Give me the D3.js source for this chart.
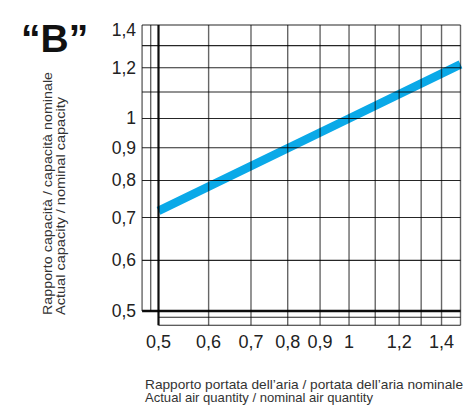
<!DOCTYPE html>
<html>
<head>
<meta charset="utf-8">
<script src="https://cdn.jsdelivr.net/npm/d3@7"></script>
<style>
  html, body { margin: 0; padding: 0; background: #fff; }
  svg { display: block; }
</style>
</head>
<body>
<svg id="chart" width="474" height="410"></svg>
<script>
// ---- data ----
const airQuantity = [0.5, 1.0, 1.5];          // actual / nominal air quantity
const capacityRatio = [0.717, 1.0, 1.215];    // actual / nominal capacity
const xTicks = [0.5, 0.6, 0.7, 0.8, 0.9, 1, 1.2, 1.4];
const xTickLabels = ["0,5", "0,6", "0,7", "0,8", "0,9", "1", "1,2", "1,4"];
const xGrid = [0.5, 0.6, 0.7, 0.8, 0.9, 1.0, 1.1, 1.2, 1.3, 1.4, 1.5];
const xGridExtra = [0.471, 0.486];
const yTicks = [0.5, 0.6, 0.7, 0.8, 0.9, 1, 1.2, 1.4];
const yTickLabels = ["0,5", "0,6", "0,7", "0,8", "0,9", "1", "1,2", "1,4"];
const yGrid = [0.5, 0.6, 0.7, 0.8, 0.9, 1.0, 1.1, 1.2, 1.3, 1.4];
const yGridExtra = [0.489, 0.475];
const title = "“B”";
const yTitle = ["Rapporto capacità / capacità nominale", "Actual capacity / nominal capacity"];
const xTitle = ["Rapporto portata dell’aria / portata dell’aria nominale", "Actual air quantity / nominal air quantity"];

// ---- scales ----
const x = d3.scaleLog().domain([0.5, 1.5]).range([158.5, 460.5]);
const y = d3.scaleLog().domain([0.5, 1.4]).range([311, 25]);

const svg = d3.select("#chart");
const font = "'Liberation Sans', Arial, Helvetica, sans-serif";

// ---- blue curve (under the grid) ----
const pts = airQuantity.map((d, i) => [d, capacityRatio[i]]);
svg.append("path")
  .datum(pts)
  .attr("d", d3.line().x(d => x(d[0])).y(d => y(d[1])))
  .attr("fill", "none")
  .attr("stroke", "#0aa9e8")
  .attr("stroke-width", 8.5);

const g = svg.append("g");
const xMin = xGridExtra[0], xMax = xGrid[xGrid.length - 1];
const yTop = yGrid[yGrid.length - 1], yBottom = yGridExtra[yGridExtra.length - 1];

// extra vertical lines left of 0.5
g.selectAll("line.vx").data(xGridExtra).join("line")
  .attr("x1", d => x(d)).attr("x2", d => x(d))
  .attr("y1", y(yTop)).attr("y2", y(0.5))
  .attr("stroke", "#000").attr("stroke-opacity", 0.6).attr("stroke-width", 1.4);

// main vertical lines
g.selectAll("line.v").data(xGrid).join("line")
  .attr("x1", d => x(d)).attr("x2", d => x(d))
  .attr("y1", y(yTop)).attr("y2", y(yBottom))
  .attr("stroke", "#000")
  .attr("stroke-opacity", d => d === 0.5 ? 0.95 : 0.6)
  .attr("stroke-width", d => d === 0.5 ? 2.2 : 1.4);

// extra horizontal lines below 0.5
g.selectAll("line.hx").data(yGridExtra).join("line")
  .attr("x1", x(0.5)).attr("x2", x(xMax))
  .attr("y1", d => y(d)).attr("y2", d => y(d))
  .attr("stroke", "#000").attr("stroke-opacity", 0.85).attr("stroke-width", 1.1);

// main horizontal lines
g.selectAll("line.h").data(yGrid).join("line")
  .attr("x1", x(xMin)).attr("x2", x(xMax))
  .attr("y1", d => y(d)).attr("y2", d => y(d))
  .attr("stroke", "#000")
  .attr("stroke-opacity", d => d === 0.5 ? 0.95 : 0.85)
  .attr("stroke-width", d => d === 0.5 ? 2.4 : 1.1);

// ---- tick labels ----
svg.selectAll("text.xt").data(xTicks).join("text")
  .attr("x", d => x(d)).attr("y", 348)
  .attr("text-anchor", "middle")
  .attr("font-family", font).attr("font-size", 18).attr("fill", "#222")
  .text((d, i) => xTickLabels[i]);

svg.selectAll("text.yt").data(yTicks).join("text")
  .attr("x", 136).attr("y", d => Math.max(y(d), 29.5) + 6)
  .attr("text-anchor", "end")
  .attr("font-family", font).attr("font-size", 17.5).attr("fill", "#222")
  .text((d, i) => yTickLabels[i]);

// ---- title ----
svg.append("text")
  .attr("x", 21).attr("y", 52)
  .attr("font-family", font).attr("font-weight", "bold")
  .attr("font-size", 39).attr("fill", "#111")
  .text(title);

// ---- axis titles ----
const yTitleLen = [243, 218];
svg.selectAll("text.ytitle").data(yTitle).join("text")
  .attr("transform", (d, i) => `translate(${51.5 + i * 13},315) rotate(-90)`)
  .attr("font-family", font).attr("font-size", 13.5).attr("fill", "#333")
  .attr("textLength", (d, i) => yTitleLen[i])
  .attr("lengthAdjust", "spacingAndGlyphs")
  .text(d => d);

const xTitleLen = [318, 228];
svg.selectAll("text.xtitle").data(xTitle).join("text")
  .attr("x", 145).attr("y", (d, i) => 388.5 + i * 13)
  .attr("font-family", font).attr("font-size", 13.5).attr("fill", "#333")
  .attr("textLength", (d, i) => xTitleLen[i])
  .attr("lengthAdjust", "spacingAndGlyphs")
  .text(d => d);
</script>
</body>
</html>
